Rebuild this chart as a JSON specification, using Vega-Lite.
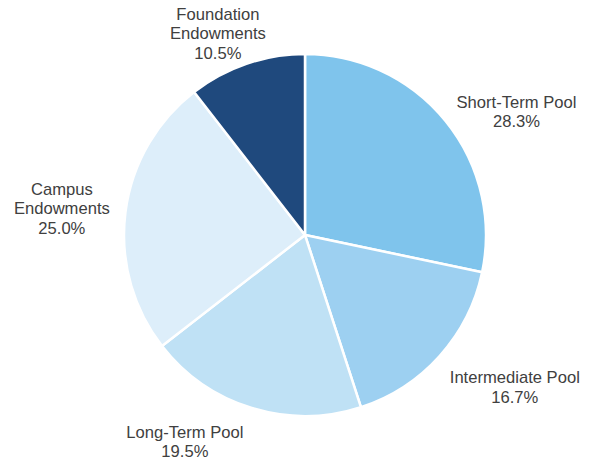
{
  "$schema": "https://vega.github.io/schema/vega-lite/v6.json",
  "width": 568,
  "height": 450,
  "padding": {"left": 21, "top": 10, "right": 0, "bottom": 0},
  "autosize": "none",
  "background": "white",
  "config": {"view": {"stroke": null}, "font": "Liberation Sans"},
  "data": {
    "values": [
      {"category": "Short-Term Pool", "share": 28.3, "order": 1, "label": "Short-Term Pool\n28.3%"},
      {"category": "Intermediate Pool", "share": 16.7, "order": 2, "label": "Intermediate Pool\n16.7%"},
      {"category": "Long-Term Pool", "share": 19.5, "order": 3, "label": "Long-Term Pool\n19.5%"},
      {"category": "Campus Endowments", "share": 25.0, "order": 4, "label": "Campus\nEndowments\n25.0%"},
      {"category": "Foundation Endowments", "share": 10.5, "order": 5, "label": "Foundation\nEndowments\n10.5%"}
    ]
  },
  "encoding": {
    "theta": {"field": "share", "type": "quantitative", "stack": true},
    "order": {"field": "order", "type": "quantitative"}
  },
  "layer": [
    {
      "mark": {"type": "arc", "stroke": "white", "strokeWidth": 2.5, "radius": 181},
      "encoding": {
        "color": {
          "field": "category",
          "type": "nominal",
          "legend": null,
          "scale": {
            "domain": ["Short-Term Pool", "Intermediate Pool", "Long-Term Pool", "Campus Endowments", "Foundation Endowments"],
            "range": ["#7fc4ec", "#9dd0f1", "#bfe1f5", "#ddeefa", "#1f497d"]
          }
        }
      }
    },
    {
      "mark": {"type": "text", "radius": 235, "fontSize": 16.6, "lineBreak": "\n", "lineHeight": 19.5, "color": "#404040", "align": "center", "baseline": "middle", "dx": 29, "dy": 16},
      "encoding": {"text": {"condition": {"test": "datum.order == 1", "field": "label"}, "value": ""}}
    },
    {
      "mark": {"type": "text", "radius": 235, "fontSize": 16.6, "lineBreak": "\n", "lineHeight": 19.5, "color": "#404040", "align": "center", "baseline": "middle", "dx": 35, "dy": -14},
      "encoding": {"text": {"condition": {"test": "datum.order == 2", "field": "label"}, "value": ""}}
    },
    {
      "mark": {"type": "text", "radius": 235, "fontSize": 16.6, "lineBreak": "\n", "lineHeight": 19.5, "color": "#404040", "align": "center", "baseline": "middle", "dx": -51, "dy": -27},
      "encoding": {"text": {"condition": {"test": "datum.order == 3", "field": "label"}, "value": ""}}
    },
    {
      "mark": {"type": "text", "radius": 235, "fontSize": 16.6, "lineBreak": "\n", "lineHeight": 19.5, "color": "#404040", "align": "center", "baseline": "middle", "dx": -10, "dy": -16},
      "encoding": {"text": {"condition": {"test": "datum.order == 4", "field": "label"}, "value": ""}}
    },
    {
      "mark": {"type": "text", "radius": 235, "fontSize": 16.6, "lineBreak": "\n", "lineHeight": 19.5, "color": "#404040", "align": "center", "baseline": "middle", "dx": -11, "dy": 2},
      "encoding": {"text": {"condition": {"test": "datum.order == 5", "field": "label"}, "value": ""}}
    }
  ]
}
